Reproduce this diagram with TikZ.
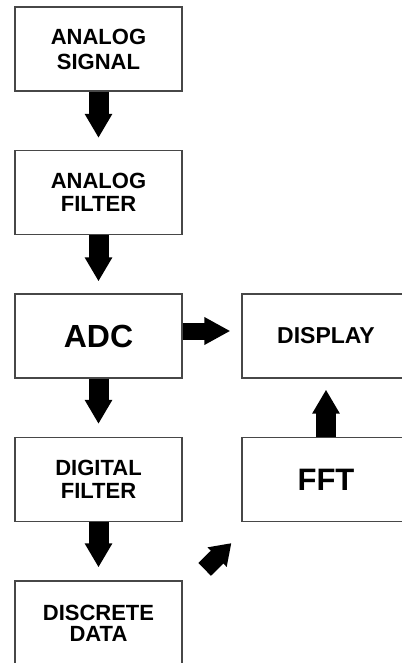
\documentclass[tikz,border=0pt]{standalone}
\usepackage{fontspec}
\setmainfont{Liberation Sans}
\usetikzlibrary{arrows.meta}
\begin{document}
\begin{tikzpicture}[x=1bp,y=-1bp,
  blk/.style={draw=black!72, line width=1.3bp, fill=white, minimum width=167bp, minimum height=84bp, inner sep=0pt, align=center, font=\bfseries},
  fat/.style={line width=20bp, draw=black, -{Triangle[width=26bp,length=24bp]}},
  fatd/.style={line width=18bp, draw=black, -{Triangle[width=26bp,length=20bp]}},
  two/.style={font=\fontsize{22bp}{#1}\selectfont\bfseries}
]
\useasboundingbox (0,0) rectangle (401,663);
\node[blk, two=25bp] (sig) at (98.5,49) {ANALOG\\SIGNAL};
\node[blk, two=23bp] (af) at (98.5,192.5) {ANALOG\\FILTER};
\node[blk, font=\fontsize{32bp}{36bp}\selectfont\bfseries] (adc) at (98.5,336) {ADC};
\node[blk, two=23bp] (df) at (98.5,479.5) {DIGITAL\\FILTER};
\node[blk, two=21bp] (dd) at (98.5,623) {DISCRETE\\DATA};
\node[blk, minimum width=168bp, font=\fontsize{23bp}{26bp}\selectfont\bfseries] (disp) at (326,336) {DISPLAY};
\node[blk, minimum width=168bp, font=\fontsize{31bp}{34bp}\selectfont\bfseries] (fft) at (326,479.5) {FFT};
\draw[fat, shorten >=12bp] (sig.south) -- (af.north);
\draw[fat, shorten >=12bp] (af.south) -- (adc.north);
\draw[fat, shorten >=13bp] (adc.south) -- (df.north);
\draw[fat, shorten >=13bp] (df.south) -- (dd.north);
\draw[fat, shorten >=11bp] (fft.north) -- (disp.south);
\draw[line width=17bp, draw=black, -{Triangle[width=26bp,length=26bp]}, shorten >=11bp] ([yshift=5bp]adc.east) -- ([yshift=5bp]disp.west);
\coordinate (dtail) at ([shift={(22,-11)}]dd.north east);
\coordinate (dtip) at ([shift={(-10,21)}]fft.south west);
\draw[fatd] (dtail) -- (dtip);
\end{tikzpicture}
\end{document}
